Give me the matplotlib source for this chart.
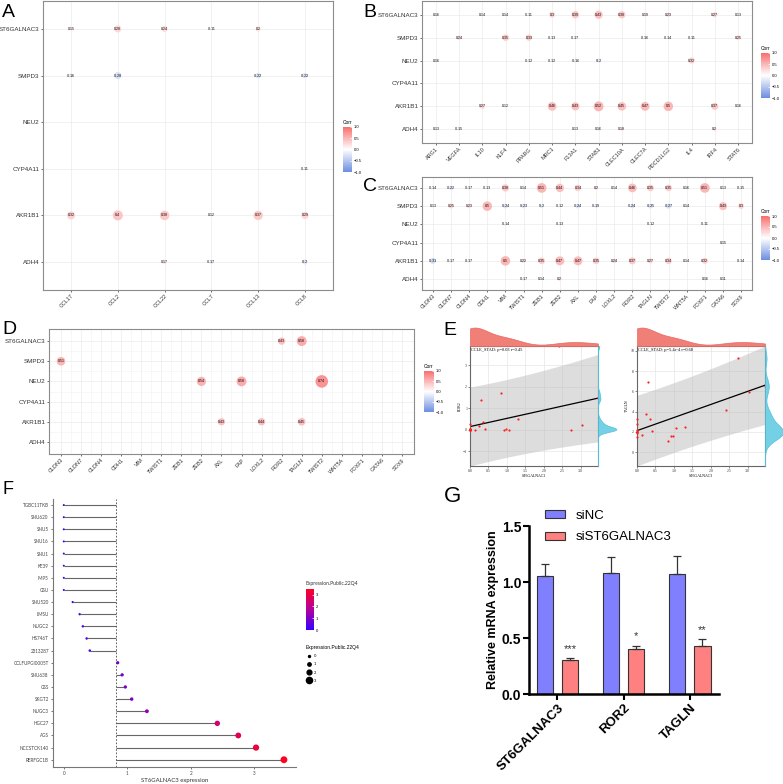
import matplotlib
matplotlib.use("Agg")
import matplotlib.pyplot as plt
import matplotlib.cm as cm
import numpy as np
from matplotlib.colors import LinearSegmentedColormap, Normalize
from matplotlib.lines import Line2D
from matplotlib.patches import Patch

plt.rcParams["font.family"] = ["Liberation Sans", "DejaVu Sans"]

N = np.nan
genes = ["ST6GALNAC3", "SMPD3", "NEU2", "CYP4A11", "AKR1B1", "ADH4"]

# panel A - chemokines
cols_a = ["CCL17", "CCL2", "CCL22", "CCL7", "CCL13", "CCL8"]
corr_a = [
    [0.15, 0.28, 0.24, -0.11, 0.2, N],
    [-0.16, -0.28, N, N, -0.22, -0.22],
    [N, N, N, N, N, N],
    [N, N, N, N, N, -0.11],
    [0.32, 0.4, 0.38, 0.12, 0.37, 0.29],
    [N, N, 0.17, -0.17, N, -0.2],
]

# panel B - macrophage markers
cols_b = ["ARG1", "VEGFA", "IL10", "KLF4", "PPARG", "MRC1", "F13A1", "STAB1",
          "CLEC10A", "CLEC7A", "PDCD1LG2", "IL4", "IRF4", "STAT6"]
corr_b = [
    [0.16, N, 0.14, 0.14, -0.11, 0.3, 0.39, 0.43, 0.38, 0.19, 0.23, N, 0.27, 0.13],
    [N, 0.24, N, 0.35, 0.33, -0.13, -0.17, N, N, -0.16, -0.14, -0.11, N, 0.25],
    [0.16, N, N, N, -0.12, -0.12, -0.16, -0.2, N, N, N, 0.32, N, N],
    [N] * 14,
    [N, N, 0.27, 0.12, N, 0.46, 0.43, 0.52, 0.45, 0.47, 0.5, N, 0.37, 0.16],
    [0.13, -0.15, N, N, N, N, 0.13, 0.16, 0.18, N, N, N, 0.2, N],
]

# panel C / D - EMT markers
cols_c = ["CLDN3", "CLDN7", "CLDN4", "CDH1", "VIM", "TWIST1", "ZEB1", "ZEB2", "AXL",
          "FAP", "LOXL2", "ROR2", "TAGLN", "TWIST2", "WNT5A", "FOXF1", "GATA6", "SOX9"]
corr_c = [
    [-0.14, -0.22, -0.17, -0.13, 0.38, 0.14, 0.51, 0.44, 0.34, 0.2, 0.14, 0.46, 0.35, 0.35, 0.16, 0.51, 0.13, -0.15],
    [0.13, 0.25, 0.23, 0.5, -0.24, -0.23, -0.2, -0.12, -0.24, -0.19, N, -0.24, -0.25, -0.27, 0.14, N, 0.43, 0.3],
    [N, N, N, N, -0.14, N, N, -0.13, N, N, N, N, -0.12, N, N, -0.11, N, N],
    [N] * 16 + [0.15, N],
    [-0.31, -0.17, -0.17, N, 0.5, 0.22, 0.35, 0.47, 0.47, 0.35, 0.24, 0.37, 0.27, 0.34, 0.14, 0.32, N, -0.14],
    [N, N, N, N, N, -0.17, 0.14, 0.2, N, N, N, N, N, N, N, 0.16, 0.11, N],
]
corr_d = [
    [N] * 11 + [0.43, 0.58] + [N] * 5,
    [0.51] + [N] * 17,
    [N] * 7 + [0.54, N, 0.58] + [N] * 3 + [0.74] + [N] * 4,
    [N] * 18,
    [N] * 8 + [0.43, N, 0.44, N, 0.45] + [N] * 5,
    [N] * 18,
]

# CCLE stomach lines (panels E, F)
cell_lines = ["TGBC11TKB", "SNU620", "SNU5", "SNU16", "SNU1", "KE39", "IM95", "GSU",
              "SNU520", "LMSU", "NUGC2", "HS746T", "2313287", "CCLFUPGI0005T", "SNU638",
              "GSS", "SKGT2", "NUGC3", "HGC27", "AGS", "NCCSTCK140", "RERFGC1B"]
st6 = [0.0, 0.0, 0.0, 0.0, 0.0, 0.0, 0.0, 0.0, 0.14, 0.25, 0.30, 0.36, 0.41,
       0.85, 0.92, 0.97, 1.07, 1.31, 2.42, 2.75, 3.03, 3.47]
ror2 = [0.27, 0.02, 0.0, 0.0, 0.05, 0.0, 0.0, 0.03, 0.0, 0.16, 1.38, 0.34, 0.02,
        1.72, 0.0, 0.03, 0.0, 0.5, 3.9, 0.0, 0.24, 1.5]
tagln = [3.24, 2.76, 2.1, 1.95, 1.46, 2.0, 2.2, 1.9, 1.72, 3.73, 6.9, 3.24, 2.04,
         1.07, 1.62, 1.58, 2.33, 2.43, 4.15, 9.25, 5.9, 6.55]

# panel G - qPCR
genes_g = ["ST6GALNAC3", "ROR2", "TAGLN"]
sinc = [1.05, 1.08, 1.07]
sinc_err = [0.11, 0.14, 0.16]
sist6 = [0.30, 0.40, 0.43]
sist6_err = [0.02, 0.03, 0.06]
stars = ["***", "*", "**"]

W, H = 783, 784
fig = plt.figure(figsize=(W / 100, H / 100), dpi=100)


def box(x0, y0, x1, y1):
    return fig.add_axes([x0 / W, 1 - y1 / H, (x1 - x0) / W, (y1 - y0) / H])


corr_cmap = LinearSegmentedColormap.from_list("corr", ["#6C8EE0", "#FFFFFF", "#F86F6F"])


def corr_panel(ax, cols, mat, k, minor=False):
    m = np.array(mat, dtype=float)
    ii, jj = np.where(~np.isnan(m))
    v = m[ii, jj]
    ax.scatter(jj, ii, s=(k * np.abs(v) * 0.72) ** 2, c=v, cmap=corr_cmap,
               vmin=-1, vmax=1, linewidths=0, zorder=3)
    for i, j, val in zip(ii, jj, v):
        ax.text(j, i, f"{val:g}", fontsize=2.5, ha="center", va="center", zorder=4)
    ax.set_xlim(-0.6, len(cols) - 0.4)
    ax.set_ylim(len(genes) - 0.4, -0.6)
    ax.set_xticks(range(len(cols)))
    ax.set_xticklabels(cols, rotation=45, ha="right", rotation_mode="anchor", fontsize=4)
    ax.set_yticks(range(len(genes)))
    ax.set_yticklabels(genes, fontsize=4.5)
    if minor:
        ax.set_xticks(np.arange(len(cols) - 1) + 0.5, minor=True)
        ax.set_yticks(np.arange(len(genes) - 1) + 0.5, minor=True)
        ax.grid(which="minor", color="#F2F2F2", lw=0.4)
        ax.tick_params(which="minor", length=0)
    ax.grid(which="major", color="#EBEBEB", lw=0.5)
    ax.set_axisbelow(True)
    for s in ax.spines.values():
        s.set_color("#8C8C8C")
        s.set_linewidth(0.8)
    ax.tick_params(length=1.5, width=0.5, color="#333333", pad=1, labelcolor="#333333")


def corr_bar(x0, y0, x1, y1):
    cax = box(x0, y0, x1, y1)
    cb = fig.colorbar(cm.ScalarMappable(norm=Normalize(-1, 1), cmap=corr_cmap),
                      cax=cax, ticks=[-1, -0.5, 0, 0.5, 1])
    cb.outline.set_visible(False)
    cb.ax.set_yticklabels(["\u22121.0", "\u22120.5", "0.0", "0.5", "1.0"])
    cb.ax.tick_params(labelsize=3, length=1.5, color="white", width=0.5, pad=1, direction="in")
    fig.text(x0 / W, 1 - (y0 - 2) / H, "Corr", fontsize=3.5, va="bottom")


# A
ax_a = box(43, 1, 333, 290)
corr_panel(ax_a, cols_a, corr_a, 25)
corr_bar(343, 127, 352, 172)

# B
ax_b = box(422, 1, 752, 143)
corr_panel(ax_b, cols_b, corr_b, 19)
corr_bar(761, 53, 770, 98)

# C
ax_c = box(422, 177, 752, 290)
corr_panel(ax_c, cols_c, corr_c, 19)
corr_bar(761, 216, 770, 260)

# D
ax_d = box(49, 329, 414, 454)
corr_panel(ax_d, cols_c, corr_d, 17, minor=True)
corr_bar(424, 371, 434, 412)


# E
def kde(vals, grid):
    v = np.asarray(vals, dtype=float)
    sd = v.std(ddof=1)
    q75, q25 = np.percentile(v, [75, 25])
    bw = 0.9 * min(sd, (q75 - q25) / 1.34) * len(v) ** -0.2
    d = np.exp(-0.5 * ((grid[:, None] - v[None, :]) / bw) ** 2).sum(1)
    return d / (len(v) * bw * np.sqrt(2 * np.pi))


def scatter_panel(left, yvals, yticks, ylabel, note):
    x = np.array(st6)
    y = np.array(yvals)
    n = len(x)
    b, a = np.polyfit(x, y, 1)
    s = np.sqrt(((y - (a + b * x)) ** 2).sum() / (n - 2))
    xs = np.linspace(x.min(), x.max(), 120)
    sxx = ((x - x.mean()) ** 2).sum()
    fit = a + b * xs
    half = 2.086 * s * np.sqrt(1 + 1 / n + (xs - x.mean()) ** 2 / sxx)
    lo, hi = fit - half, fit + half
    ymin, ymax = min(lo.min(), y.min()), max(hi.max(), y.max())

    ax = box(left, 346, left + 128, 466)
    ax.fill_between(xs, lo, hi, color="#BDBDBD", alpha=0.5, lw=0, zorder=1)
    ax.plot(xs, fit, color="black", lw=0.9, zorder=2)
    ax.scatter(x, y, s=2.5, color="#FF2020", lw=0, zorder=3, clip_on=False)
    ax.set_xlim(x.min(), x.max())
    ax.set_ylim(ymin, ymax)
    ax.set_xticks(np.arange(0, 3.01, 0.5))
    ax.set_xticklabels([f"{t:.1f}" for t in np.arange(0, 3.01, 0.5)])
    ax.set_yticks(yticks)
    ax.grid(color="#E6E6E6", lw=0.5)
    ax.set_axisbelow(True)
    for sp in ax.spines.values():
        sp.set_color("#666666")
        sp.set_linewidth(0.8)
    ax.tick_params(labelsize=2.8, length=1.2, width=0.4, pad=0.8, colors="#333333")
    for lab in ax.get_xticklabels() + ax.get_yticklabels():
        lab.set_family("Liberation Serif")
    ax.set_xlabel("ST6GALNAC3", fontsize=2.8, family="Liberation Serif", labelpad=1)
    ax.set_ylabel(ylabel, fontsize=2.8, family="Liberation Serif", labelpad=1)
    ax.text(0.01, 0.98, note, transform=ax.transAxes, fontsize=3.2,
            family="Liberation Serif", va="top")

    gx = np.linspace(x.min(), x.max(), 200)
    dx = kde(x, gx)
    axt = box(left, 327, left + 128, 346)
    axt.fill_between(gx, 0, dx, color="#EF7F77", lw=0.5, edgecolor="#E8685F")
    axt.set_xlim(x.min(), x.max())
    axt.set_ylim(0, dx.max() * 1.03)
    axt.axis("off")

    gy = np.linspace(ymin, ymax, 200)
    dy = kde(y, gy)
    axr = box(left + 128, 346, left + 147, 466)
    axr.fill_betweenx(gy, 0, dy, color="#74D0E4", lw=0.5, edgecolor="#4FC0DA")
    axr.set_ylim(ymin, ymax)
    axr.set_xlim(0, dy.max() * 1.03)
    axr.axis("off")


scatter_panel(470, ror2, [-1, 0, 1, 2, 3], "ROR2", "CCLE_STAD: p=0.03 r=0.45")
scatter_panel(637, tagln, [0, 2, 4, 6, 8, 10], "TAGLN", "CCLE_STAD: p=5.4e-4 r=0.68")

# F
f_cmap = LinearSegmentedColormap.from_list("expr", ["#3300FF", "#B4009E", "#FF0022"])
vals = np.array(st6)
f_norm = Normalize(vals.min(), vals.max())


def dot_size(v):
    return ((2 + 1.4 * np.asarray(v)) * 0.72) ** 2


ax_f = box(53, 499, 296, 767)
yy = np.arange(len(cell_lines))
mean_v = vals.mean()
ax_f.hlines(yy, np.minimum(vals, mean_v), np.maximum(vals, mean_v), color="#666666", lw=0.8, zorder=1)
ax_f.axvline(mean_v, color="#444444", lw=0.6, ls=(0, (2, 2)), zorder=1)
ax_f.scatter(vals, yy, s=dot_size(vals), c=vals, cmap=f_cmap, norm=f_norm, lw=0, zorder=3)
ax_f.set_xlim(-0.17, 3.66)
ax_f.set_ylim(21.6, -0.5)
ax_f.set_yticks(yy)
ax_f.set_yticklabels(cell_lines, family="Lato")
ax_f.set_xticks([0, 1, 2, 3])
for sp in ["top", "right"]:
    ax_f.spines[sp].set_visible(False)
for sp in ["left", "bottom"]:
    ax_f.spines[sp].set_color("#777777")
    ax_f.spines[sp].set_linewidth(0.8)
ax_f.tick_params(labelsize=3.3, length=1.5, width=0.5, pad=1.5, colors="#444444")
for lab in ax_f.get_xticklabels():
    lab.set_family("Lato")
ax_f.set_xlabel("ST6GALNAC3 expression", fontsize=4.3, family="Lato", labelpad=1.5, color="#333333")

cax_f = box(306, 589, 314, 630)
cbf = fig.colorbar(cm.ScalarMappable(norm=f_norm, cmap=f_cmap), cax=cax_f, ticks=[0, 1, 2, 3])
cbf.outline.set_visible(False)
cbf.ax.tick_params(labelsize=3, length=1.5, color="white", width=0.5, pad=1, direction="in")
fig.text(305 / W, 1 - 586 / H, "Expression.Public.22Q4", fontsize=3.6, family="Lato",
         va="bottom", color="#333333")
size_handles = [Line2D([], [], marker="o", ls="", color="black",
                       markersize=float(np.sqrt(dot_size(v)))) for v in [0, 1, 2, 3]]
fig.legend(size_handles, ["0", "1", "2", "3"], loc="upper left",
           bbox_to_anchor=(304 / W, 1 - 643 / H), frameon=False, fontsize=3,
           title="Expression.Public.22Q4", title_fontsize=3.6, alignment="left",
           labelspacing=1.0, handletextpad=0.6, borderpad=0, handlelength=1.2,
           prop={"family": "Lato", "size": 3})

# G
ax_g = box(529, 526, 719, 694)
xg = np.arange(len(genes_g))
bw_g = 0.246
ax_g.bar(xg - 0.19, sinc, bw_g, yerr=[np.zeros(3), sinc_err], color="#8080FF",
         edgecolor="#333333", lw=0.8, label="siNC",
         error_kw=dict(ecolor="#333333", elinewidth=0.9, capsize=3, capthick=0.9))
ax_g.bar(xg + 0.19, sist6, bw_g, yerr=[np.zeros(3), sist6_err], color="#FF8080",
         edgecolor="#333333", lw=0.8, label="siST6GALNAC3",
         error_kw=dict(ecolor="#333333", elinewidth=0.9, capsize=3, capthick=0.9))
for i in range(3):
    ax_g.text(xg[i] + 0.19, sist6[i] + sist6_err[i] + 0.04, stars[i], ha="center",
              va="bottom", fontsize=8, color="#333333")
ax_g.set_xlim(-0.43, 2.44)
ax_g.set_ylim(0, 1.5)
ax_g.set_yticks([0, 0.5, 1.0, 1.5])
ax_g.set_yticklabels(["0.0", "0.5", "1.0", "1.5"], fontweight="bold", fontsize=10)
ax_g.set_xticks(xg)
ax_g.set_xticklabels(genes_g, rotation=45, ha="right", rotation_mode="anchor",
                     fontweight="bold", fontsize=9.5)
ax_g.set_ylabel("Relative mRNA expression", fontweight="bold", fontsize=9, labelpad=2)
for sp in ["top", "right"]:
    ax_g.spines[sp].set_visible(False)
for sp in ["left", "bottom"]:
    ax_g.spines[sp].set_linewidth(1.8)
ax_g.tick_params(length=4, width=1.5, pad=1.5)
ax_g.legend(loc="upper left", bbox_to_anchor=(538 / W, 1 - 503 / H),
            bbox_transform=fig.transFigure, frameon=False, fontsize=9.5,
            handlelength=1.55, handleheight=0.6, labelspacing=0.75, handletextpad=0.8,
            borderpad=0)

# panel letters
for lab, x, y, fs in [("A", 2, 4, 14), ("B", 363, 4, 14), ("C", 363, 178, 14),
                      ("D", 2, 321, 14), ("E", 443, 322, 14), ("F", 3, 481, 13),
                      ("G", 444, 486, 16)]:
    fig.text(x / W, 1 - y / H, lab, fontsize=fs, va="top", ha="left")

fig.savefig("out.png", dpi=100)
